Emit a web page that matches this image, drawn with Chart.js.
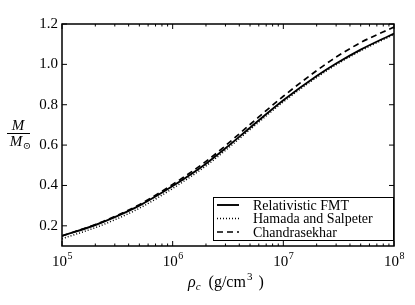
<!DOCTYPE html>
<html lang="en">
<head>
  <meta charset="UTF-8">
  <title>White dwarf mass vs central density</title>
  <script src="https://cdn.jsdelivr.net/npm/chart.js"></script>
  <style>
    html, body { margin: 0; padding: 0; background: white; }
    #wrap { width: 415px; height: 305px; }
  </style>
</head>
<body>
<div id="wrap"><canvas id="massChart" width="415" height="305"></canvas></div>
<script>
// central density (g/cm^3)
const rho = [1e5, 2e5, 3e5, 5e5, 1e6, 2e6, 3e6, 5e6, 1e7, 2e7, 3e7, 5e7, 1e8];
// M / M_sun
const massFMT      = [0.150, 0.204, 0.243, 0.300, 0.397, 0.508, 0.584, 0.686, 0.822, 0.942, 1.004, 1.073, 1.153];
const massHamada   = [0.136, 0.191, 0.230, 0.287, 0.385, 0.497, 0.574, 0.677, 0.814, 0.935, 0.998, 1.067, 1.148];
const massChandra  = [0.150, 0.206, 0.246, 0.305, 0.405, 0.519, 0.597, 0.702, 0.842, 0.969, 1.036, 1.108, 1.185];
const seriesLabels = ['Relativistic FMT', 'Hamada and Salpeter', 'Chandrasekhar'];
const xMajor = [1e5, 1e6, 1e7, 1e8];
const xExp = ['5', '6', '7', '8'];
const yMajor = [0.2, 0.4, 0.6, 0.8, 1.0, 1.2];
const yLabels = ['0.2', '0.4', '0.6', '0.8', '1.0', '1.2'];

const SERIF = '"Liberation Serif", "DejaVu Serif", serif';

function pts(ys) {
  return rho.map((r, i) => ({ x: r, y: ys[i] }));
}

const styles = [
  { borderDash: [], lineWidth: 1.9 },
  { borderDash: [1, 2], lineWidth: 1.5 },
  { borderDash: [6, 4], lineWidth: 1.7 }
];

const axesPlugin = {
  id: 'axesPlugin',
  afterDraw(chart) {
    const ctx = chart.ctx;
    const a = chart.chartArea;
    const xs = chart.scales.x, ys = chart.scales.y;
    ctx.save();
    ctx.strokeStyle = '#000';
    ctx.fillStyle = '#000';

    // frame
    ctx.lineWidth = 1.5;
    ctx.strokeRect(a.left, a.top, a.right - a.left, a.bottom - a.top);

    // x ticks (log), inward on top and bottom
    ctx.lineWidth = 1;
    for (let d = 0; d < xMajor.length; d++) {
      const base = xMajor[d];
      const px = xs.getPixelForValue(base);
      ctx.beginPath();
      ctx.moveTo(px, a.bottom); ctx.lineTo(px, a.bottom - 5);
      ctx.moveTo(px, a.top); ctx.lineTo(px, a.top + 5);
      ctx.stroke();
      if (d < xMajor.length - 1) {
        for (let m = 2; m <= 9; m++) {
          const mx = xs.getPixelForValue(base * m);
          ctx.beginPath();
          ctx.moveTo(mx, a.bottom); ctx.lineTo(mx, a.bottom - 2.5);
          ctx.moveTo(mx, a.top); ctx.lineTo(mx, a.top + 2.5);
          ctx.stroke();
        }
      }
      // label 10^n
      ctx.font = '15px ' + SERIF;
      ctx.textBaseline = 'alphabetic';
      const w10 = ctx.measureText('10').width;
      ctx.font = '10px ' + SERIF;
      const wE = ctx.measureText(xExp[d]).width;
      const start = px - (w10 + wE) / 2;
      ctx.font = '15px ' + SERIF;
      ctx.textAlign = 'left';
      ctx.fillText('10', start, a.bottom + 20);
      ctx.font = '10px ' + SERIF;
      ctx.fillText(xExp[d], start + w10 + 0.5, a.bottom + 13);
    }

    // y ticks, inward on left and right
    ctx.font = '15px ' + SERIF;
    ctx.textAlign = 'right';
    ctx.textBaseline = 'middle';
    yMajor.forEach((v, i) => {
      const py = ys.getPixelForValue(v);
      ctx.beginPath();
      ctx.moveTo(a.left, py); ctx.lineTo(a.left + 5, py);
      ctx.moveTo(a.right, py); ctx.lineTo(a.right - 5, py);
      ctx.stroke();
      ctx.fillText(yLabels[i], a.left - 4, py);
    });

    // x title: rho_c (g/cm^3 )
    ctx.textBaseline = 'alphabetic';
    ctx.textAlign = 'left';
    let tx = 188, ty = 287;
    ctx.font = 'italic 16px ' + SERIF;
    ctx.fillText('ρ', tx, ty); tx += ctx.measureText('ρ').width;
    ctx.font = 'italic 11px ' + SERIF;
    ctx.fillText('c', tx, ty + 3); tx += ctx.measureText('c').width + 8;
    ctx.font = '16px ' + SERIF;
    ctx.fillText('(g/cm', tx, ty); tx += ctx.measureText('(g/cm').width;
    ctx.font = '11px ' + SERIF;
    ctx.fillText('3', tx + 1, ty - 7); tx += ctx.measureText('3').width + 7;
    ctx.font = '16px ' + SERIF;
    ctx.fillText(')', tx, ty);

    // y title: M / M_sun
    ctx.textAlign = 'center';
    ctx.font = 'italic 15px ' + SERIF;
    ctx.fillText('M', 18, 130);
    ctx.lineWidth = 1;
    ctx.beginPath(); ctx.moveTo(7, 133.5); ctx.lineTo(30, 133.5); ctx.stroke();
    ctx.fillText('M', 16, 146);
    ctx.font = '10px "DejaVu Serif", serif';
    ctx.fillText('⊙', 27, 149);

    // legend box
    const lx = 213, ly = 197, lw = 180, lh = 43;
    ctx.fillStyle = '#fff';
    ctx.fillRect(lx, ly, lw, lh);
    ctx.strokeStyle = '#000';
    ctx.lineWidth = 1;
    ctx.strokeRect(lx + 0.5, ly + 0.5, lw, lh);
    ctx.fillStyle = '#000';
    ctx.textAlign = 'left';
    ctx.textBaseline = 'middle';
    ctx.font = '14px ' + SERIF;
    chart.data.datasets.forEach((ds, i) => {
      const yy = ly + 8 + i * 13.5;
      ctx.setLineDash(styles[i].borderDash);
      ctx.lineWidth = styles[i].lineWidth;
      ctx.beginPath(); ctx.moveTo(lx + 4, yy); ctx.lineTo(lx + 26, yy); ctx.stroke();
      ctx.setLineDash([]);
      ctx.fillText(ds.label, lx + 40, yy + 1);
    });
    ctx.restore();
  }
};

const datasets = [massFMT, massHamada, massChandra].map((ys, i) => ({
  label: seriesLabels[i],
  data: pts(ys),
  borderColor: '#000',
  borderWidth: styles[i].lineWidth,
  borderDash: styles[i].borderDash,
  pointRadius: 0,
  fill: false,
  cubicInterpolationMode: 'monotone'
}));

new Chart(document.getElementById('massChart').getContext('2d'), {
  type: 'line',
  data: { datasets: datasets },
  options: {
    responsive: false,
    animation: false,
    layout: { padding: { top: 24, right: 21, left: 0, bottom: 0 } },
    plugins: { legend: { display: false }, tooltip: { enabled: false } },
    scales: {
      x: {
        type: 'logarithmic', min: 1e5, max: 1e8,
        grid: { display: false }, border: { display: false },
        ticks: { display: false },
        afterFit(s) { s.height = 59; }
      },
      y: {
        type: 'linear', min: 0.1, max: 1.2,
        grid: { display: false }, border: { display: false },
        ticks: { display: false },
        afterFit(s) { s.width = 62; }
      }
    }
  },
  plugins: [axesPlugin]
});
</script>
</body>
</html>
